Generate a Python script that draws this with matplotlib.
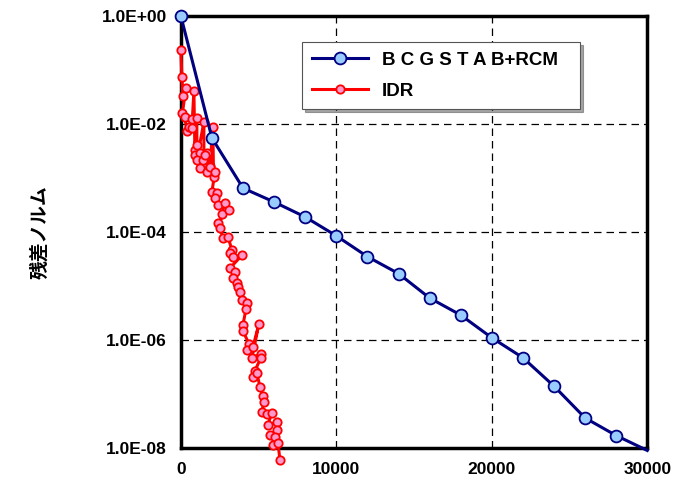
import matplotlib
matplotlib.use('Agg')
import matplotlib.pyplot as plt
from matplotlib.ticker import FixedLocator, FixedFormatter

## data ##
bicg_iter = [0, 2000, 4000, 6000, 8000, 10000, 12000, 14000, 16000, 18000,
             20000, 22000, 24000, 26000, 28000, 30000]
bicg_res = [1.0, 5.5e-3, 6.5e-4, 3.6e-4, 1.9e-4, 8.5e-5, 3.5e-5, 1.7e-5,
            6.0e-6, 2.9e-6, 1.1e-6, 4.7e-7, 1.4e-7, 3.6e-8, 1.7e-8, 9.0e-9]

idr_iter = [0, 64, 129, 322, 100, 258, 386, 515, 708, 708,
            837, 901, 1030, 1030, 901, 1223, 1030, 1481, 1481, 1223,
            1416, 1674, 1545, 1867, 2060, 2100, 1674, 1867, 2189, 1996,
            2318, 2189, 2382, 2833, 2640, 3090, 2382, 2511, 2704, 3026,
            3283, 3155, 3348, 3927, 3155, 3477, 3348, 3605, 3670, 3798,
            3927, 4249, 4185, 3992, 3992, 4378, 4249, 4635, 5022, 4571,
            5150, 5150, 4764, 4635, 4893, 5086, 5279, 5344, 5215, 5537,
            5858, 5601, 6180, 6180, 5730, 6052, 5923, 6245, 6373]
idr_res = [0.236, 0.074, 0.033, 0.047, 0.016, 0.0135, 0.0074, 0.0088, 0.0124, 0.0085,
           0.041, 0.0033, 0.0129, 0.0041, 0.0027, 0.0029, 0.0022, 0.011, 0.0019, 0.00155,
           0.0022, 0.0029, 0.0027, 0.00167, 0.0088, 0.00104, 0.00129, 0.00159, 0.00129, 5.5e-4,
           5.3e-4, 4.3e-4, 3.2e-4, 3.5e-4, 2.2e-4, 2.6e-4, 1.5e-4, 1.18e-4, 7.8e-5, 8.1e-5,
           4.7e-5, 4.1e-5, 3.5e-5, 3.7e-5, 2.15e-5, 1.82e-5, 1.41e-5, 1.14e-5, 9.6e-6, 7.8e-6,
           5.5e-6, 4.9e-6, 3.7e-6, 1.9e-6, 1.48e-6, 8.5e-7, 6.5e-7, 7.4e-7, 2.0e-6, 4.7e-7,
           5.5e-7, 4.7e-7, 2.7e-7, 2.05e-7, 2.45e-7, 1.35e-7, 9.2e-8, 7.1e-8, 4.7e-8, 4.3e-8,
           4.5e-8, 2.7e-8, 3.0e-8, 2.15e-8, 1.74e-8, 1.6e-8, 1.14e-8, 1.23e-8, 6.0e-9]

y_ticks = [1e0, 1e-2, 1e-4, 1e-6, 1e-8]
y_labels = ['1.0E+00', '1.0E-02', '1.0E-04', '1.0E-06', '1.0E-08']
x_ticks = [0, 10000, 20000, 30000]
x_labels = ['0', '10000', '20000', '30000']

plt.rcParams['font.family'] = ['Liberation Sans', 'Noto Sans CJK JP', 'DejaVu Sans']

fig = plt.figure(figsize=(6.93, 4.88), dpi=100)
ax = fig.add_axes([0.261, 0.082, 0.673, 0.885])

ax.plot(idr_iter, idr_res, color='red', linewidth=2.2, marker='o', markersize=6,
        markerfacecolor='#ff99cc', markeredgecolor='red', markeredgewidth=1.3,
        label='IDR', clip_on=False, zorder=3)
ax.plot(bicg_iter, bicg_res, color='#000080', linewidth=2.2, marker='o', markersize=8.5,
        markerfacecolor='#99ccff', markeredgecolor='#000080', markeredgewidth=1.3,
        markevery=list(range(len(bicg_iter) - 1)),
        label='B C G S T A B+RCM', clip_on=False, zorder=4)

ax.set_yscale('log')
ax.set_xlim(0, 30000)
ax.set_ylim(1e-8, 1)
ax.yaxis.set_major_locator(FixedLocator(y_ticks))
ax.yaxis.set_major_formatter(FixedFormatter(y_labels))
ax.yaxis.set_minor_locator(FixedLocator([]))
ax.set_xticks(x_ticks)
ax.set_xticklabels(x_labels)
ax.tick_params(length=0, pad=10, labelsize=12.5)
for lab in ax.get_xticklabels() + ax.get_yticklabels():
    lab.set_fontweight('bold')

ax.grid(True, color='black', linestyle=(0, (6, 4)), linewidth=0.9)
for s in ax.spines.values():
    s.set_linewidth(2.5)
    s.set_color('black')
    s.set_zorder(2.5)

ax.set_ylabel('残差ノルム', fontsize=13.5, fontweight='bold', labelpad=38,
              family=['Noto Sans CJK JP', 'DejaVu Sans'])

handles, labels = ax.get_legend_handles_labels()
leg = ax.legend(handles[::-1], labels[::-1], loc='upper left',
                bbox_to_anchor=(0.26, 0.778, 0.596, 0.162), mode='expand',
                fancybox=False, shadow=True, framealpha=1, edgecolor='#555555',
                prop={'weight': 'bold', 'size': 13.5}, handlelength=3.0,
                handletextpad=0.6, borderpad=0.5, borderaxespad=0,
                labelspacing=0.75)
leg.get_frame().set_linewidth(0.8)
leg.set_zorder(6)
for t in leg.get_texts():
    t.set_x(3)

fig.savefig('out.png', dpi=100)
